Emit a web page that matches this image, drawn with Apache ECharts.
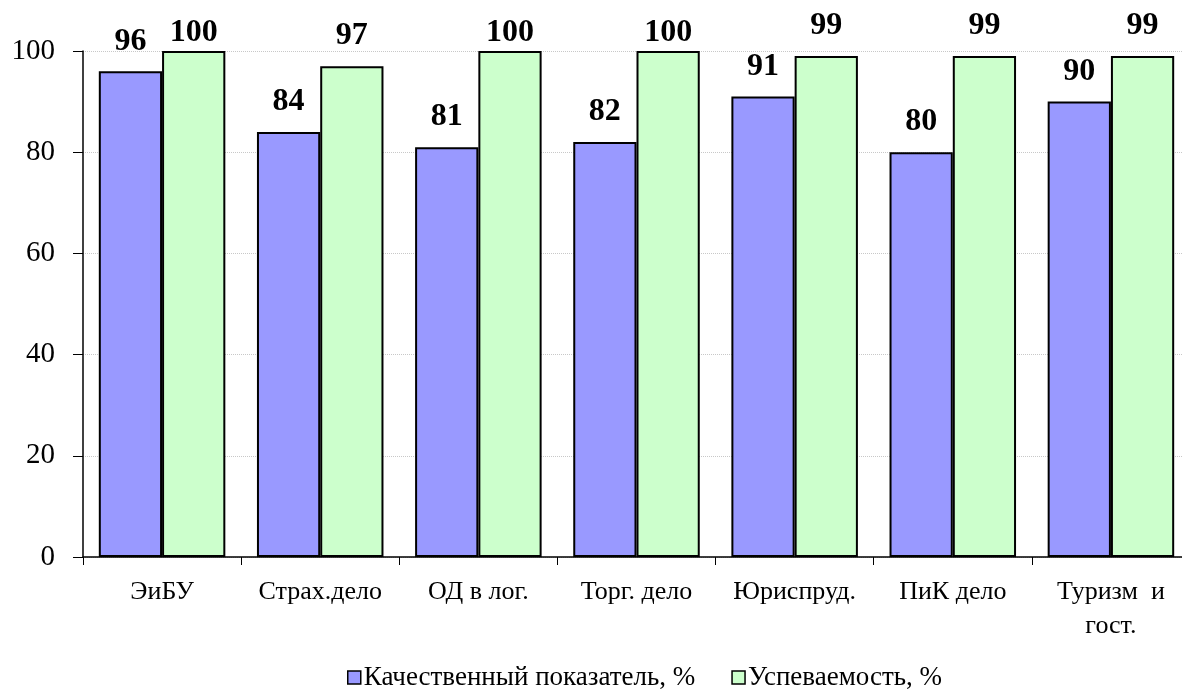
<!DOCTYPE html>
<html>
<head>
<meta charset="utf-8">
<script src="https://cdn.jsdelivr.net/npm/echarts@6/dist/echarts.min.js"></script>
<style>
  html, body { margin: 0; padding: 0; background: #fff; }
  #main { width: 1182px; height: 689px; }
</style>
</head>
<body>
<div id="main"></div>
<script>
// данные диаграммы
var categories = ['ЭиБУ', 'Страх.дело', 'ОД в лог.', 'Торг. дело', 'Юриспруд.', 'ПиК дело', 'Туризм  и\nгост.'];
var quality = [96, 84, 81, 82, 91, 80, 90];
var progress = [100, 97, 100, 100, 99, 99, 99];
var seriesNames = ['Качественный показатель, %', 'Успеваемость, %'];

var serif = '"Liberation Serif", "Times New Roman", serif';
var yMax = 100;
var myChart = echarts.init(document.getElementById('main'));

// подписи над столбцами; у столбцов до верхней границы подпись прижата ближе
function withLabels(values) {
  return values.map(function (v) {
    return {
      value: v,
      label: { distance: v >= yMax ? 2 : 14 }
    };
  });
}

var labelStyle = {
  show: true,
  position: 'top',
  color: '#000',
  fontFamily: serif,
  fontWeight: 'bold',
  fontSize: 32
};

var option = {
  animation: false,
  textStyle: { fontFamily: serif },
  grid: {
    left: 83,
    top: 51,
    right: -8,
    bottom: 132,
    outerBoundsMode: 'none'
  },
  legend: {
    top: 659,
    left: 342,
    itemWidth: 13,
    itemHeight: 13,
    itemGap: 36,
    icon: 'rect',
    itemStyle: { borderColor: '#000', borderWidth: 1.5 },
    textStyle: { fontFamily: serif, fontSize: 27, color: '#000', padding: [0, 0, 0, -2] },
    data: seriesNames
  },
  xAxis: {
    type: 'category',
    data: categories,
    axisLine: { lineStyle: { color: '#000', width: 1.5 } },
    axisTick: { show: true, length: 8, lineStyle: { color: '#000' } },
    axisLabel: {
      color: '#000',
      fontFamily: serif,
      fontSize: 26,
      margin: 18,
      lineHeight: 34,
      interval: 0
    }
  },
  yAxis: {
    type: 'value',
    min: 0,
    max: yMax,
    interval: 20,
    axisLine: { show: true, lineStyle: { color: '#000', width: 1.5 } },
    axisTick: { show: true, length: 10, lineStyle: { color: '#000' } },
    axisLabel: { color: '#000', fontFamily: serif, fontSize: 29, margin: 28 },
    splitLine: { show: true, lineStyle: { color: '#c8c8c8', type: 'dotted', width: 1 } }
  },
  series: [
    {
      name: seriesNames[0],
      type: 'bar',
      data: withLabels(quality),
      barGap: '0%',
      barCategoryGap: '20%',
      itemStyle: { color: '#9999FF', borderColor: '#000', borderWidth: 2 },
      label: labelStyle
    },
    {
      name: seriesNames[1],
      type: 'bar',
      data: withLabels(progress),
      itemStyle: { color: '#CCFFCC', borderColor: '#000', borderWidth: 2 },
      label: labelStyle
    }
  ]
};

myChart.setOption(option);
</script>
</body>
</html>
